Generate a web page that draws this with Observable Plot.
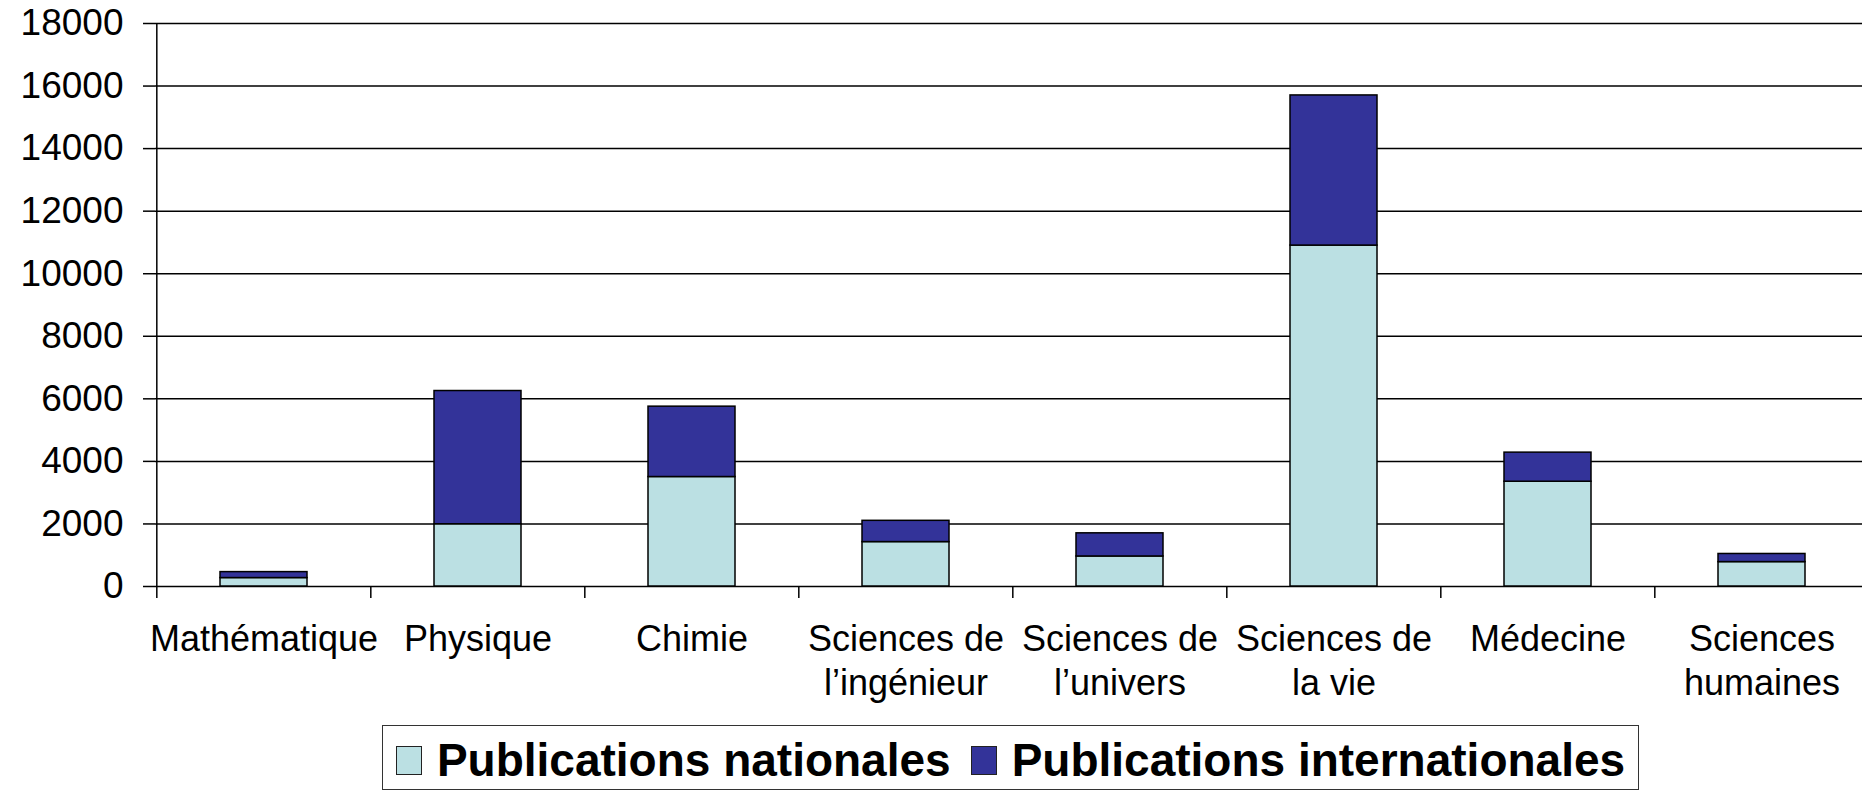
<!DOCTYPE html>
<html><head><meta charset="utf-8">
<script src="https://cdn.jsdelivr.net/npm/d3@7"></script>
<script src="https://cdn.jsdelivr.net/npm/@observablehq/plot@0.6"></script>
<style>
html,body{margin:0;padding:0;background:#fff;overflow:hidden;font-family:"Liberation Sans",Arial,sans-serif;color:#000;}
#chart{width:1862px;overflow:hidden;}
#chart svg{display:block;max-width:none !important;height:712px !important;}
.legend{box-sizing:border-box;margin-left:382px;margin-top:13px;width:1257px;height:65px;border:1.5px solid #333;
  display:flex;justify-content:center;align-items:flex-start;padding-top:11px;font-weight:bold;font-size:46px;line-height:46px;}
.legend .item{display:flex;align-items:center;}
.legend .sw{display:inline-block;width:24px;height:27px;border:1.5px solid #222;margin-right:15px;}
.legend .item + .item{margin-left:20px;}
</style></head><body>
<div id="chart"></div>
<script>
const categories = ["Mathématique","Physique","Chimie","Sciences de l’ingénieur","Sciences de l’univers","Sciences de la vie","Médecine","Sciences humaines"];
const categoryLabels = ["Mathématique","Physique","Chimie","Sciences de\nl’ingénieur","Sciences de\nl’univers","Sciences de\nla vie","Médecine","Sciences\nhumaines"];
const seriesNames = ["Publications nationales","Publications internationales"];
const seriesColors = ["#BBE0E3","#333399"];
const nationales = [270, 1990, 3500, 1420, 960, 10900, 3350, 780];
const internationales = [190, 4260, 2250, 680, 740, 4800, 930, 260];
const yTicks = [0,2000,4000,6000,8000,10000,12000,14000,16000,18000];

const data = [];
categories.forEach((c,i)=>{
  data.push({cat:c, series:seriesNames[0], value:nationales[i]});
  data.push({cat:c, series:seriesNames[1], value:internationales[i]});
});

const W=1870, H=712, mL=155, mR=0, mT=23, mB=126;
const step = (W-mL-mR)/categories.length;
const font = "'Liberation Sans', Arial, sans-serif";

const chart = Plot.plot({
  width:W, height:H, marginLeft:mL, marginRight:mR, marginTop:mT, marginBottom:mB,
  style:{fontFamily:font, color:"#000", background:"#fff", overflow:"visible", maxWidth:"none"},
  x:{domain:categories, paddingInner:0.594, paddingOuter:0.297, axis:null},
  y:{domain:[0,18000], axis:null},
  color:{domain:seriesNames, range:seriesColors},
  marks:[
    Plot.gridY(yTicks, {stroke:"#000", strokeOpacity:1, strokeWidth:1.5}),
    Plot.barY(data, {x:"cat", y:"value", fill:"series", stroke:"#000", strokeWidth:1.5}),
    Plot.ruleX([categories[0]], {y1:0, y2:18000, dx:-step/2, stroke:"#000", strokeWidth:1.5}),
    Plot.axisY({ticks:yTicks, tickSize:12, tickPadding:20, fontSize:37, tickFormat:d3.format("d"), stroke:"#000", strokeWidth:1.5, label:null}),
    Plot.axisX({tickSize:12, fill:"none", dx:-step/2, stroke:"#000", strokeWidth:1.5, label:null}),
    Plot.axisX({tickSize:0, tickPadding:33, fontSize:36, lineHeight:1.22, tickFormat:d=>categoryLabels[categories.indexOf(d)], label:null})
  ]
});
document.getElementById("chart").appendChild(chart);

const legend = document.createElement("div");
legend.className = "legend";
seriesNames.forEach((n,i)=>{
  const it = document.createElement("span"); it.className="item";
  const sw = document.createElement("span"); sw.className="sw"; sw.style.background = seriesColors[i];
  const tx = document.createElement("span"); tx.textContent = n;
  it.appendChild(sw); it.appendChild(tx); legend.appendChild(it);
});
document.body.appendChild(legend);
</script>
</body></html>
